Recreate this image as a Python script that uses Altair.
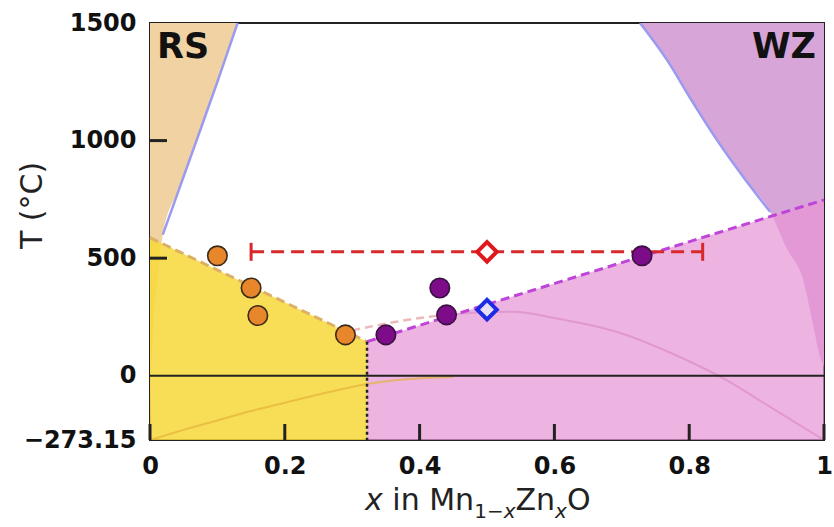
import altair as alt
import pandas as pd

# ---------------- data ----------------
orange_x = [0.10, 0.15, 0.16, 0.29]
orange_T = [510, 373, 256, 174]
purple_x = [0.35, 0.43, 0.44, 0.73]
purple_T = [174, 373, 259, 510]

exp_x = [0.50]
exp_T = [527]
exp_lo = [0.15]
exp_hi = [0.82]
calc_x = [0.50]
calc_T = [281]

# RS-side binodal
rs_bin_T = [-273.15, 0, 200, 400, 600, 800, 1000, 1250, 1500]
rs_bin_x = [0.0, 0.002, 0.005, 0.011, 0.019, 0.044, 0.069, 0.100, 0.130]
# WZ-side binodal
wz_bin_x = [0.727, 0.767, 0.803, 0.841, 0.880, 0.920, 0.945, 0.969, 0.985, 0.994, 1.0]
wz_bin_T = [1500, 1343, 1173, 1003, 846, 697, 540, 408, 200, 81, 40]

# phase boundaries (dashed lines)
rs_line_x = [0.0, 0.322]
rs_line_T = [587, 145]
wz_line_x = [0.322, 1.0]
wz_line_T = [145, 748]
sep_x = [0.322]
sep_T = [145]

# faint curves
rs_faint_x = [0.0, 0.05, 0.10, 0.15, 0.20, 0.25, 0.322, 0.38, 0.45]
rs_faint_T = [-273.15, -230, -190, -150, -115, -80, -35, -15, -5]
dome_dash_x = [0.30, 0.366, 0.415, 0.45]
dome_dash_T = [193, 230, 251, 262]
dome_x = [0.45, 0.48, 0.539, 0.598, 0.697, 0.772, 0.846, 0.920, 1.0]
dome_T = [262, 268, 272, 247, 183, 98, -4, -132, -273.15]

x_ticks = [0, 0.2, 0.4, 0.6, 0.8, 1.0]
T_ticks = [-273.15, 0, 500, 1000, 1500]
T_inner_ticks = [500, 1000]
region_labels = ["RS", "WZ"]
# x-axis title pieces
xt_pieces = ["x", "in Mn", "1\u2212", "x", "Zn", "x", "O"]

# ---------------- encodings ----------------
T_MIN, T_MAX = -273.15, 1500
xs = alt.Scale(domain=[0, 1], nice=False, zero=False)
ys = alt.Scale(domain=[T_MIN, T_MAX], nice=False, zero=False)

xaxis = alt.Axis(
    values=x_ticks, ticks=False, domain=False, grid=False,
    labelExpr="datum.value == 0 ? '0' : (datum.value == 1 ? '1' : format(datum.value, '.1f'))",
    labelFont="DejaVu Sans", labelFontWeight="bold", labelFontSize=24, labelColor="#111",
    labelPadding=14, labelFlush=False, labelOverlap=False, title="",
)
yaxis = alt.Axis(
    values=T_ticks, ticks=False, domain=False, grid=False,
    labelExpr="datum.value < 0 ? '\u2212273.15' : format(datum.value, 'd')",
    labelFont="DejaVu Sans", labelFontWeight="bold", labelFontSize=24, labelColor="#111",
    labelPadding=14, labelFlush=False, labelOverlap=False, labelBaseline="middle",
    title="T (°C)", titleFont="DejaVu Sans", titleFontSize=30, titleFontWeight="normal",
    titleColor="#222", titleX=-118, titleY=182, titleBaseline="middle",
)


def X(f):
    return alt.X(f, type="quantitative", scale=xs, axis=xaxis)


def Y(f):
    return alt.Y(f, type="quantitative", scale=ys, axis=yaxis)


rs_bin = pd.DataFrame({"x": rs_bin_x, "T": rs_bin_T})
wz_bin = pd.DataFrame({"x": wz_bin_x, "T": wz_bin_T})
rs_line = pd.DataFrame({"x": rs_line_x, "T": rs_line_T})
wz_line = pd.DataFrame({"x": wz_line_x, "T": wz_line_T})
sep = pd.DataFrame({"x": sep_x, "T": sep_T})

# regions
tan = alt.Chart(rs_bin).mark_area(color="#F1D3A3", interpolate="monotone", clip=True).encode(
    x=X("x"), y=Y("T"), y2=alt.datum(T_MAX))
violet = alt.Chart(wz_bin).mark_area(color="#D7A5D8", interpolate="monotone", clip=True).encode(
    x=X("x"), y=Y("T"), y2=alt.datum(T_MAX))
rs_blue = alt.Chart(rs_bin).transform_filter("datum.T >= 575").mark_line(
    color="#9A9AF0", strokeWidth=2.5, interpolate="monotone", clip=True).encode(
    x=X("x"), y=Y("T"), order="T:Q")
wz_blue = alt.Chart(wz_bin).transform_filter("datum.T >= 680").mark_line(
    color="#9A9AF0", strokeWidth=2.5, interpolate="monotone", clip=True).encode(
    x=X("x"), y=Y("T"), order="x:Q")
yellow = alt.Chart(rs_line).mark_area(color="#F7D83A", opacity=0.85, clip=True).encode(
    x=X("x"), y=Y("T"), y2=alt.datum(T_MIN))
pink = alt.Chart(wz_line).mark_area(color="#E794D4", opacity=0.7, clip=True).encode(
    x=X("x"), y=Y("T"), y2=alt.datum(T_MIN))

# faint curves
rs_faint = alt.Chart(pd.DataFrame({"x": rs_faint_x, "T": rs_faint_T})).mark_line(
    color="#E3B23C", strokeWidth=2, opacity=0.7, interpolate="monotone", clip=True).encode(
    x=X("x"), y=Y("T"))
dome_dash = alt.Chart(pd.DataFrame({"x": dome_dash_x, "T": dome_dash_T})).mark_line(
    color="#E6A8A8", strokeWidth=2.5, opacity=0.8, strokeDash=[8, 5], interpolate="monotone",
    clip=True).encode(x=X("x"), y=Y("T"))
dome = alt.Chart(pd.DataFrame({"x": dome_x, "T": dome_T})).mark_line(
    color="#DC8CC4", strokeWidth=2, opacity=0.7, interpolate="monotone", clip=True).encode(
    x=X("x"), y=Y("T"))

# boundary lines
rs_dash = alt.Chart(rs_line).mark_line(color="#DDB066", strokeWidth=3, strokeDash=[9, 5]).encode(
    x=X("x"), y=Y("T"))
wz_dash = alt.Chart(wz_line).mark_line(color="#BE45D8", strokeWidth=3, strokeDash=[9, 5]).encode(
    x=X("x"), y=Y("T"))
sep_rule = alt.Chart(sep).mark_rule(color="#222", strokeWidth=2.5, strokeDash=[3, 3]).encode(
    x=X("x"), y=Y("T"), y2=alt.datum(T_MIN))

zero = alt.Chart(pd.DataFrame({"T": [0]})).mark_rule(color="#222", strokeWidth=2).encode(
    y=Y("T"))

yticks = alt.Chart(pd.DataFrame({"T": T_inner_ticks})).mark_rule(color="#222", strokeWidth=3).encode(
    y=Y("T"), x=alt.value(0), x2=alt.value(17))
xticks = alt.Chart(pd.DataFrame({"x": x_ticks})).mark_rule(color="#222", strokeWidth=3).encode(
    x=X("x"), y=alt.value(417), y2=alt.value(401))

# experiment error bar
exp = pd.DataFrame({"x": exp_x, "T": exp_T, "lo": exp_lo, "hi": exp_hi})
err_line = alt.Chart(exp).mark_rule(color="#D8282C", strokeWidth=3, strokeDash=[13, 7]).encode(
    x=X("lo"), x2="hi:Q", y=Y("T"))
cap_lo = alt.Chart(exp).mark_rule(color="#D8282C", strokeWidth=3, yOffset=-9, y2Offset=9).encode(
    x=X("lo"), y=Y("T"), y2="T:Q")
cap_hi = alt.Chart(exp).mark_rule(color="#D8282C", strokeWidth=3, yOffset=-9, y2Offset=9).encode(
    x=X("hi"), y=Y("T"), y2="T:Q")
red_dia = alt.Chart(exp).mark_point(shape="diamond", size=380, filled=True, fill="white",
                                    stroke="#E0181C", strokeWidth=4, opacity=1).encode(
    x=X("x"), y=Y("T"))
blue_dia = alt.Chart(pd.DataFrame({"x": calc_x, "T": calc_T})).mark_point(
    shape="diamond", size=380, filled=True, fill="#E6DEF2", stroke="#1E2BE6", strokeWidth=4,
    opacity=1).encode(x=X("x"), y=Y("T"))

orange_pts = alt.Chart(pd.DataFrame({"x": orange_x, "T": orange_T})).mark_circle(
    size=380, color="#E8862C", opacity=1, stroke="#3B2A1A", strokeWidth=1.6).encode(
    x=X("x"), y=Y("T"))
purple_pts = alt.Chart(pd.DataFrame({"x": purple_x, "T": purple_T})).mark_circle(
    size=380, color="#7C0C88", opacity=1, stroke="#3A1242", strokeWidth=1.6).encode(
    x=X("x"), y=Y("T"))

rs_text = alt.Chart(pd.DataFrame({"label": [region_labels[0]]})).mark_text(
    align="left", baseline="top", font="DejaVu Sans", fontWeight="bold", fontSize=35,
    color="#111").encode(x=alt.value(7), y=alt.value(7), text="label:N")
wz_text = alt.Chart(pd.DataFrame({"label": [region_labels[1]]})).mark_text(
    align="right", baseline="top", font="DejaVu Sans", fontWeight="bold", fontSize=35,
    color="#111").encode(x=alt.value(666), y=alt.value(7), text="label:N")

# x-axis title built from pieces (italic x and subscripts)
piece_style = [
    # (x px, y px, size, italic)
    (215, 487, 30, True),
    (242.3, 487, 30, False),
    (324.2, 495, 20, False),
    (353.7, 495, 20, True),
    (365.5, 487, 30, False),
    (405.1, 495, 20, True),
    (416.9, 487, 30, False),
]
title_layers = []
for txt, (px, py, fs, it) in zip(xt_pieces, piece_style):
    title_layers.append(
        alt.Chart(pd.DataFrame({"t": [txt]})).mark_text(
            align="left", baseline="alphabetic", font="DejaVu Sans", fontSize=fs,
            fontStyle="italic" if it else "normal", color="#222").encode(
            x=alt.value(px), y=alt.value(py), text="t:N")
    )

chart = alt.layer(
    tan, violet, rs_blue, wz_blue, yellow, pink, rs_faint, dome_dash, dome,
    rs_dash, wz_dash, sep_rule, zero, yticks, xticks,
    err_line, cap_lo, cap_hi, red_dia, blue_dia, orange_pts, purple_pts,
    rs_text, wz_text, *title_layers,
).properties(
    width=674, height=417,
    autosize=alt.AutoSizeParams(type="none"),
    padding={"left": 150, "top": 23, "right": 10, "bottom": 87},
    background="white",
).configure_view(stroke="#222", strokeWidth=2)

chart.save("out.html", embed_options={"renderer": "svg", "actions": False})
